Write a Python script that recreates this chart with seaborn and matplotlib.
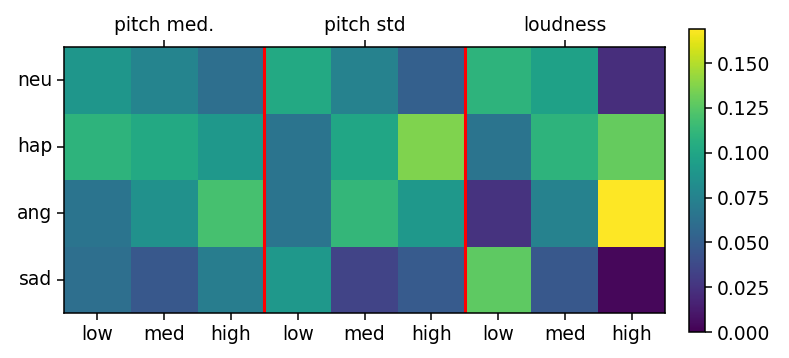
import numpy as np
import pandas as pd
import seaborn as sns
import matplotlib
matplotlib.use("Agg")
import matplotlib.pyplot as plt

rows = ["neu", "hap", "ang", "sad"]
cols = ["low", "med", "high", "low", "med", "high", "low", "med", "high"]
groups = ["pitch med.", "pitch std", "loudness"]

neu = [0.089, 0.076, 0.061, 0.102, 0.075, 0.051, 0.109, 0.097, 0.022]
hap = [0.109, 0.102, 0.090, 0.065, 0.100, 0.136, 0.065, 0.109, 0.129]
ang = [0.065, 0.085, 0.119, 0.065, 0.112, 0.090, 0.025, 0.075, 0.169]
sad = [0.061, 0.046, 0.071, 0.090, 0.034, 0.048, 0.127, 0.046, 0.003]

data = np.array([neu, hap, ang, sad])
df = pd.DataFrame(data, index=rows)

FS = 13.5
LW = 1.1
TL = 4.8

fig = plt.figure(figsize=(7.89, 3.58), dpi=100)
W, H = 789, 358
ax = fig.add_axes([64 / W, (H - 313) / H, (665 - 64) / W, (313 - 47) / H])
cax = fig.add_axes([689 / W, (H - 332) / H, (705 - 689) / W, (332 - 29) / H])

sns.heatmap(df, ax=ax, cmap="viridis", vmin=0, vmax=data.max(), cbar_ax=cax,
            cbar_kws={"ticks": [0, 0.025, 0.05, 0.075, 0.1, 0.125, 0.15]})
cax.yaxis.set_major_formatter(matplotlib.ticker.FormatStrFormatter("%.3f"))
cax.tick_params(labelsize=FS, length=TL, width=LW)
cbar = ax.collections[0].colorbar
cbar.outline.set_visible(True)
cbar.outline.set_edgecolor("black")
cbar.outline.set_linewidth(LW)

ax.set_xticks(np.arange(len(cols)) + 0.5)
ax.set_xticklabels(cols, rotation=0, fontsize=FS)
ax.set_yticks(np.arange(len(rows)) + 0.5)
ax.set_yticklabels(rows, rotation=0, fontsize=FS)
ax.tick_params(axis="both", length=TL, width=LW)
for s in ax.spines.values():
    s.set_visible(True)
    s.set_color("black")
    s.set_linewidth(LW)

for x in [3, 6]:
    ax.axvline(x, color="red", linewidth=2.2)

top = ax.secondary_xaxis("top")
top.set_xticks([1.5, 4.5, 7.5])
top.set_xticklabels(groups, fontsize=FS)
top.tick_params(length=TL, width=LW)

fig.savefig("out.png", dpi=100)
